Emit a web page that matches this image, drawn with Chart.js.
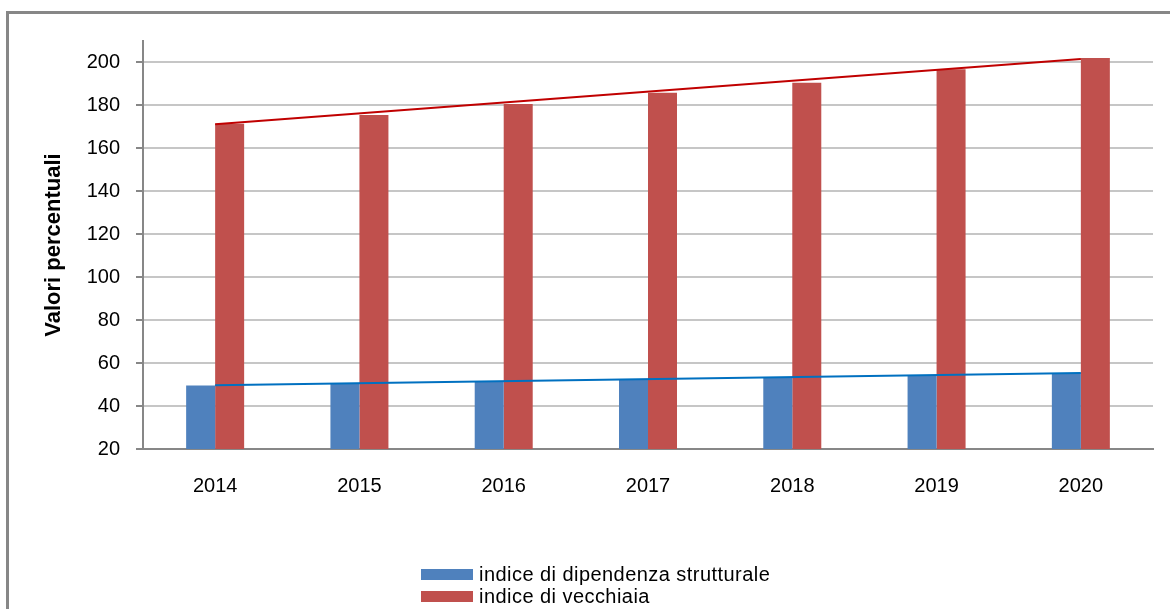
<!DOCTYPE html>
<html>
<head>
<meta charset="utf-8">
<script src="https://cdn.jsdelivr.net/npm/chart.js@4/dist/chart.umd.min.js"></script>
<style>
  html, body { margin: 0; padding: 0; background: #ffffff; }
  #wrap { position: relative; width: 1170px; height: 609px; overflow: hidden; background: #fff; }
  #frame { position: absolute; left: 6px; top: 11px; width: 1200px; height: 700px;
           border-left: 3px solid #878787; border-top: 3px solid #878787; box-sizing: border-box; }
  #c { position: absolute; left: 0; top: 0; }
  #legend { position: absolute; left: 421px; top: 563px; font-family: "Liberation Sans", Arial, sans-serif;
            font-size: 20px; color: #000; letter-spacing: 0.45px; }
  .item { display: flex; align-items: center; height: 22px; }
  .box { width: 52px; height: 11px; margin-right: 6px; }
</style>
</head>
<body>
<div id="wrap">
  <div id="frame"></div>
  <canvas id="c" width="1170" height="609"></canvas>
  <div id="legend"></div>
</div>
<script>
// ---- data ----
const years = ["2014", "2015", "2016", "2017", "2018", "2019", "2020"];
const dipendenza = [49.6, 50.6, 51.4, 52.4, 53.4, 54.4, 55.3];
const vecchiaia = [171.5, 175.5, 180.7, 185.9, 190.6, 196.8, 202.1];
// linear trendline end values (first and last year)
const trendDipendenza = [49.7, null, null, null, null, null, 55.4];
const trendVecchiaia = [171.2, null, null, null, null, null, 201.6];
const yTicks = [20, 40, 60, 80, 100, 120, 140, 160, 180, 200];
const seriesNames = ["indice di dipendenza strutturale", "indice di vecchiaia"];
const yTitle = "Valori percentuali";

const BLUE = "#4F81BD", RED = "#C0504D";
const FONT = "'Liberation Sans', Arial, sans-serif";

new Chart(document.getElementById("c"), {
  type: "bar",
  data: {
    labels: years,
    datasets: [
      { type: "line", label: "trend dip", data: trendDipendenza, borderColor: "#0070C0", borderWidth: 2,
        pointRadius: 0, spanGaps: true, fill: false, order: 0, tension: 0 },
      { type: "line", label: "trend vec", data: trendVecchiaia, borderColor: "#C00000", borderWidth: 2,
        pointRadius: 0, spanGaps: true, fill: false, order: 0, tension: 0 },
      { label: seriesNames[0], data: dipendenza, backgroundColor: BLUE, order: 1,
        categoryPercentage: 0.402, barPercentage: 1.0 },
      { label: seriesNames[1], data: vecchiaia, backgroundColor: RED, order: 1,
        categoryPercentage: 0.402, barPercentage: 1.0 }
    ]
  },
  options: {
    responsive: false,
    animation: false,
    devicePixelRatio: 1,
    layout: { padding: { left: 0, top: 41, right: 17, bottom: 0 } },
    plugins: { legend: { display: false }, tooltip: { enabled: false } },
    scales: {
      x: {
        grid: { display: false, drawTicks: false },
        border: { display: true, color: "#878787", width: 2 },
        ticks: { color: "#000", padding: 25, font: { family: FONT, size: 20 } },
        afterFit: (s) => { s.height = 160; }
      },
      y: {
        min: 20, max: 210,
        afterBuildTicks: (s) => { s.ticks = yTicks.map(v => ({ value: v })); },
        grid: { color: "#c6c6c6", lineWidth: 2, tickLength: 7, tickColor: "#878787", tickWidth: 2 },
        border: { display: true, color: "#878787", width: 2 },
        ticks: { color: "#000", padding: 16, font: { family: FONT, size: 20 } },
        title: { display: true, text: yTitle, color: "#000", padding: { top: 41, bottom: 0 },
                 font: { family: FONT, size: 22, weight: "bold" } },
        afterFit: (s) => { s.width = 143; }
      }
    }
  }
});

// legend (HTML text, built from the series names and colours)
const lg = document.getElementById("legend");
[[seriesNames[0], BLUE], [seriesNames[1], RED]].forEach(([name, col]) => {
  const d = document.createElement("div"); d.className = "item";
  const b = document.createElement("span"); b.className = "box"; b.style.background = col;
  const t = document.createElement("span"); t.textContent = name;
  d.appendChild(b); d.appendChild(t); lg.appendChild(d);
});
</script>
</body>
</html>
